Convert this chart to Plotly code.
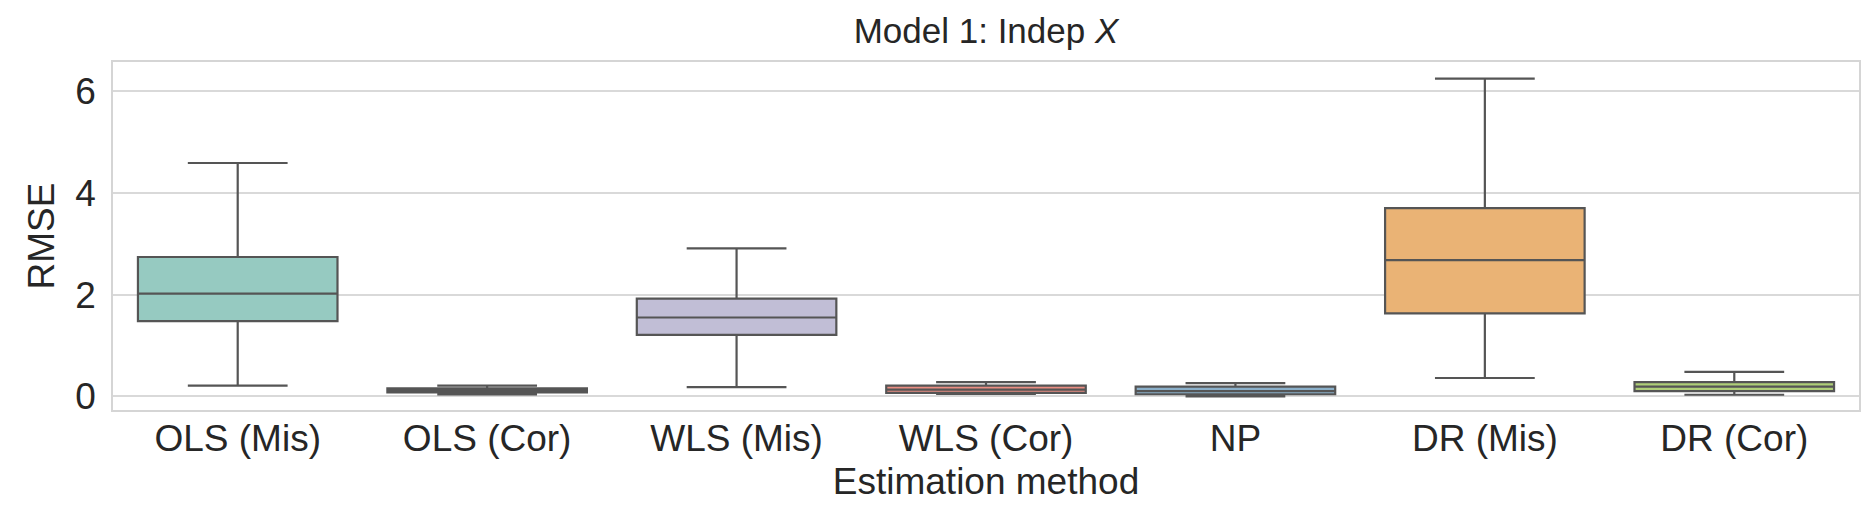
import colorsys
import plotly.graph_objects as go

methods = ["OLS (Mis)", "OLS (Cor)", "WLS (Mis)", "WLS (Cor)", "NP", "DR (Mis)", "DR (Cor)"]
lower_whisker = [0.21, 0.035, 0.18, 0.045, 0.00, 0.36, 0.03]
q1_vals = [1.48, 0.075, 1.21, 0.065, 0.04, 1.63, 0.10]
median_vals = [2.02, 0.11, 1.55, 0.13, 0.10, 2.68, 0.19]
q3_vals = [2.74, 0.155, 1.92, 0.21, 0.19, 3.70, 0.28]
upper_whisker = [4.59, 0.21, 2.91, 0.28, 0.26, 6.25, 0.48]

palette = ["#8dd3c7", "#ffffb3", "#bebada", "#fb8072", "#80b1d3", "#fdb462", "#b3de69"]


def desaturate(hexcol, prop=0.75):
    r, g, b = (int(hexcol[i:i + 2], 16) / 255 for i in (1, 3, 5))
    h, l, s = colorsys.rgb_to_hls(r, g, b)
    r, g, b = colorsys.hls_to_rgb(h, l, s * prop)
    return "#%02x%02x%02x" % (round(r * 255), round(g * 255), round(b * 255))


line_col = "#555555"
font_family = "Liberation Sans, Arial, sans-serif"

fig = go.Figure()
for i, m in enumerate(methods):
    fig.add_trace(go.Box(
        x=[m],
        q1=[q1_vals[i]],
        median=[median_vals[i]],
        q3=[q3_vals[i]],
        lowerfence=[lower_whisker[i]],
        upperfence=[upper_whisker[i]],
        width=0.8,
        fillcolor=desaturate(palette[i]),
        line=dict(color=line_col, width=2.2),
        whiskerwidth=0.5,
        boxpoints=False,
        showlegend=False,
        hoverinfo="skip",
    ))

fig.update_layout(
    width=1870,
    height=506,
    margin=dict(l=105, r=19, t=54, b=104, autoexpand=False),
    paper_bgcolor="white",
    plot_bgcolor="white",
    boxmode="overlay",
    font=dict(family=font_family, color="#262626"),
    title=dict(
        text="Model 1: Indep <i>X</i>",
        x=0.5 + (105 - 19) / 2 / 1870,
        xanchor="center",
        y=1 - 23 / 506,
        yanchor="middle",
        yref="container",
        font=dict(size=35, color="#262626"),
    ),
    xaxis=dict(
        categoryorder="array",
        categoryarray=methods,
        range=[-0.5, len(methods) - 0.5],
        showgrid=False,
        showline=True,
        mirror=True,
        linecolor="#d5d5d5",
        linewidth=1.5,
        ticks="",
        tickfont=dict(size=37, color="#262626"),
        ticklabelstandoff=-5,
        title=dict(text="Estimation method", font=dict(size=37, color="#262626"), standoff=10),
    ),
    yaxis=dict(
        range=[-0.27, 6.577],
        tickvals=[0, 2, 4, 6],
        showgrid=True,
        gridcolor="#d9d9d9",
        gridwidth=1.5,
        zeroline=False,
        showline=True,
        mirror=True,
        linecolor="#d5d5d5",
        linewidth=1.5,
        ticks="",
        tickfont=dict(size=37, color="#262626"),
        ticklabelstandoff=8,
        title=dict(text="RMSE", font=dict(size=37, color="#262626"), standoff=9),
    ),
)

fig.write_html("out.html")
